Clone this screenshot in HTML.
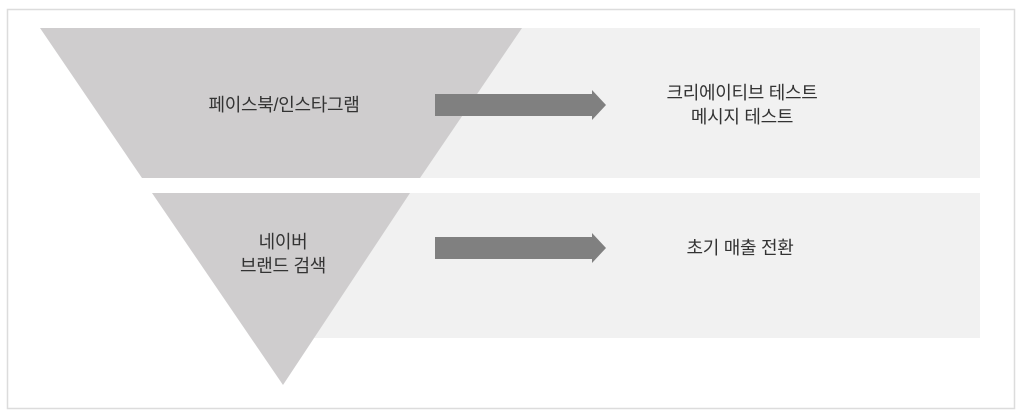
<!DOCTYPE html>
<html><head><meta charset="utf-8"><style>
html,body{margin:0;padding:0;background:#fff;}
body{width:1024px;height:417px;position:relative;overflow:hidden;font-family:"Liberation Sans","Noto Sans CJK KR",sans-serif;color:#333;}
.t{position:absolute;font-size:18px;text-align:center;line-height:24px;white-space:nowrap;transform:translateX(-50%);letter-spacing:-0.3px;}
</style></head><body>
<svg width="1024" height="417" style="position:absolute;left:0;top:0">
<rect x="7.5" y="9.5" width="1007" height="399" fill="#fff" stroke="#dcdcdc" stroke-width="1.5"/>
<rect x="283" y="28" width="697" height="150" fill="#f1f1f1"/>
<rect x="283" y="193" width="697" height="145" fill="#f1f1f1"/>
<polygon points="40,28 522,28 420,178 142,178" fill="#cfcdce"/>
<polygon points="152,193 410,193 283,385" fill="#cfcdce"/>
<rect x="125" y="178" width="855" height="15" fill="#fff"/>
<polygon points="435,94 592,94 592,90 606,105 592,120 592,116 435,116" fill="#808080"/>
<polygon points="435,237 592,237 592,233 606,248 592,263 592,259 435,259" fill="#808080"/>
</svg>
<div class="t" style="left:284px;top:93px">페이스북/인스타그램</div>
<div class="t" style="left:283px;top:230px">네이버<br>브랜드 검색</div>
<div class="t" style="left:742px;top:81px">크리에이티브 테스트<br>메시지 테스트</div>
<div class="t" style="left:740px;top:236px">초기 매출 전환</div>
</body></html>
